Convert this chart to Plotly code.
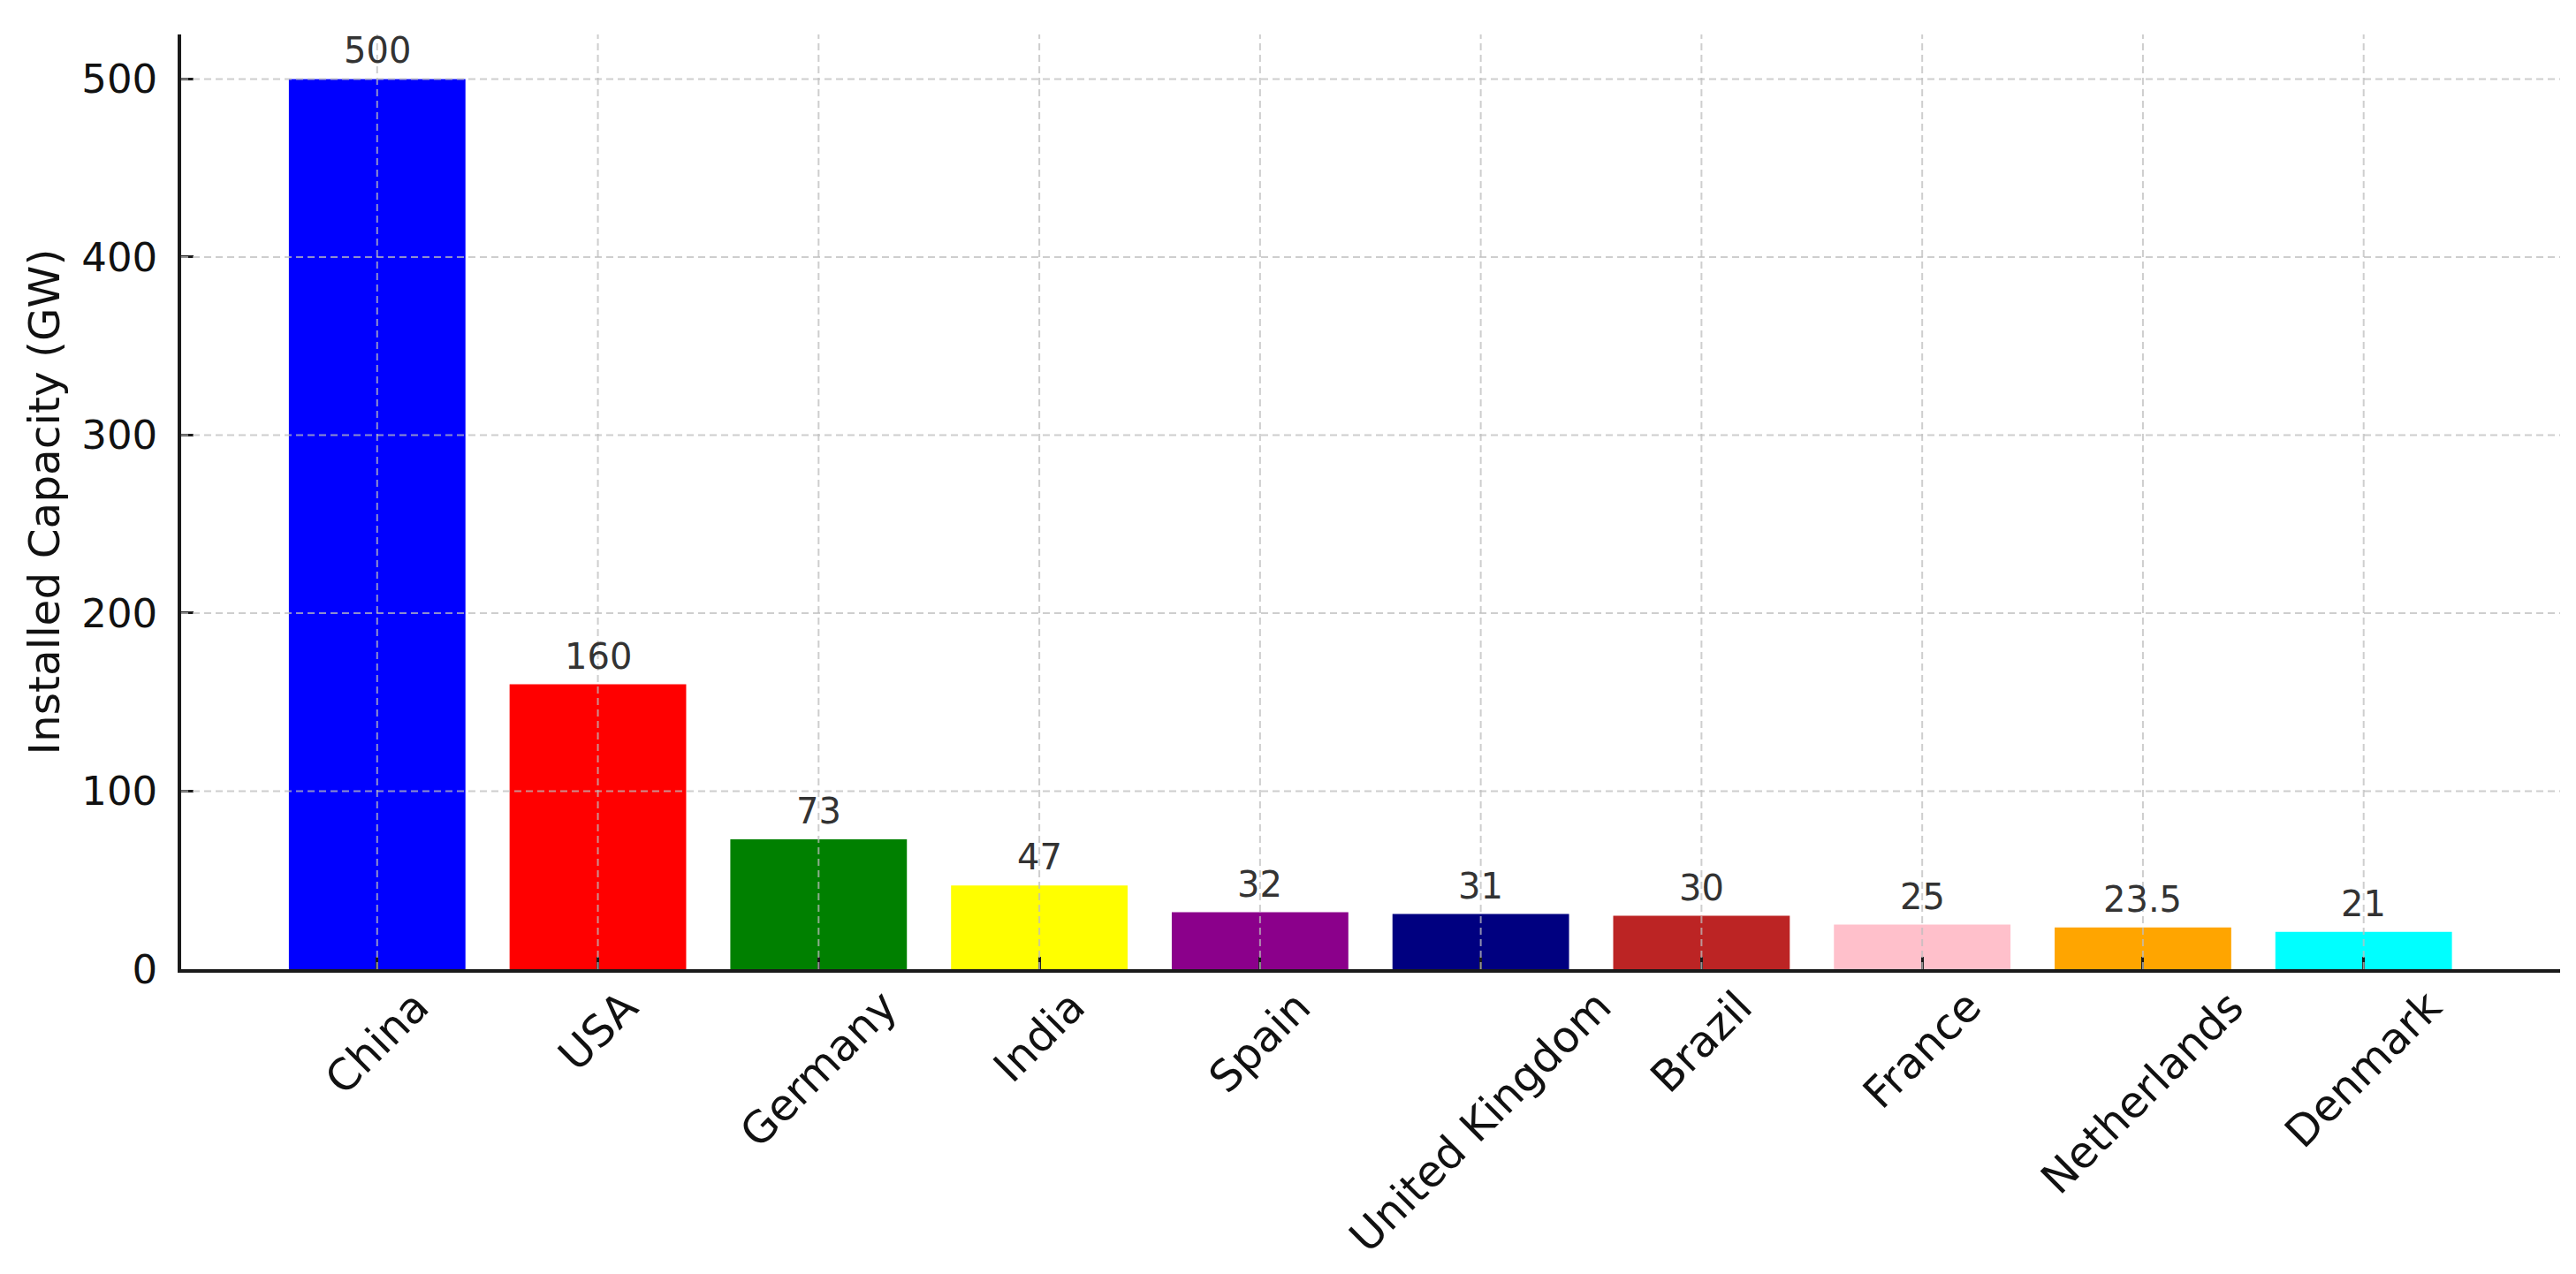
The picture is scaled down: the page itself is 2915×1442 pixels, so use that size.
import plotly.graph_objects as go

countries = ["China", "USA", "Germany", "India", "Spain", "United Kingdom",
             "Brazil", "France", "Netherlands", "Denmark"]
capacity_gw = [500, 160, 73, 47, 32, 31, 30, 25, 23.5, 21]
bar_colors = ["#0000FF", "#FF0000", "#008000", "#FFFF00", "#8B008B", "#000080",
              "#BC2424", "#FFC0CB", "#FFA500", "#00FFFF"]
y_ticks = [0, 100, 200, 300, 400, 500]
y_title = "Installed Capacity (GW)"

FONT = "DejaVu Sans"
GRID = "rgba(190,190,190,0.75)"

fig = go.Figure()
fig.add_trace(go.Bar(
    x=countries, y=capacity_gw, marker=dict(color=bar_colors, line=dict(width=0)),
    width=0.8, showlegend=False, hoverinfo="x+y"))

def fmt(v):
    return str(int(v)) if float(v).is_integer() else str(v)

annotations = []
for c, v in zip(countries, capacity_gw):
    annotations.append(dict(x=c, y=v, xref="x", yref="y", text=fmt(v),
                            showarrow=False, xanchor="center", yanchor="bottom",
                            yshift=7, font=dict(family=FONT, size=40, color="#333333")))
    annotations.append(dict(x=c, y=0, xref="x", yref="paper", text=c,
                            showarrow=False, xanchor="center", yanchor="top",
                            textangle=-45, yshift=-11,
                            font=dict(family=FONT, size=49, color="#111111")))

shapes = []
for t in y_ticks[1:]:
    shapes.append(dict(type="line", xref="paper", x0=0, x1=1, yref="y", y0=t, y1=t,
                       line=dict(color=GRID, width=2, dash="8px,5px"), layer="above"))
for c in countries:
    shapes.append(dict(type="line", xref="x", x0=c, x1=c, yref="paper", y0=0, y1=1,
                       line=dict(color=GRID, width=2, dash="8px,5px"), layer="above"))

# page body has an 8px default margin; size and margins compensate for it
fig.update_layout(
    width=2899, height=1426,
    margin=dict(l=197, r=10, t=31, b=337),
    paper_bgcolor="white", plot_bgcolor="white",
    font=dict(family=FONT, size=45, color="#111111"),
    annotations=annotations, shapes=shapes,
    bargap=0.2,
)
fig.update_xaxes(
    type="category", range=[-0.888, 9.89], showgrid=False, zeroline=False,
    showline=True, linecolor="#1a1a1a", linewidth=3.5,
    ticks="inside", ticklen=14, tickwidth=3, tickcolor="#1a1a1a",
    showticklabels=False, layer="above traces")
fig.update_yaxes(
    range=[0, 525], tickvals=y_ticks, showgrid=False, zeroline=False,
    showline=True, linecolor="#1a1a1a", linewidth=3.5,
    ticks="inside", ticklen=14, tickwidth=3, tickcolor="#1a1a1a",
    tickfont=dict(family=FONT, size=45, color="#111111"),
    ticklabelstandoff=14,
    title=dict(text=y_title, font=dict(family=FONT, size=48.5, color="#111111"), standoff=10),
    layer="above traces")

fig.write_html("out.html")
